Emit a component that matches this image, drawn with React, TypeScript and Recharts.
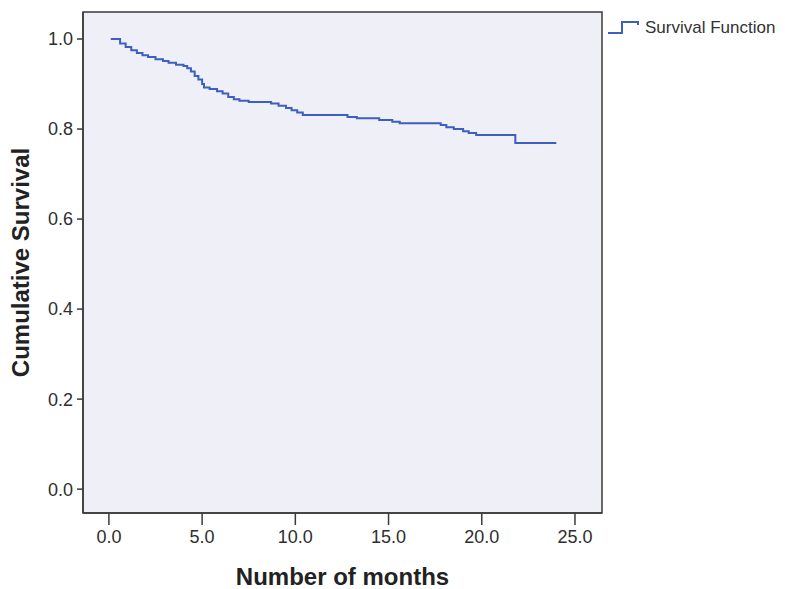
import React from "react";
import {
	LineChart,
	Line,
	XAxis,
	YAxis,
	ReferenceArea,
} from "recharts";

// Kaplan-Meier estimate: event time (months) and survival after it
const months = [
	0.1, 0.6, 0.9, 1.2, 1.5, 1.8, 2.1, 2.5, 2.9, 3.2, 3.6, 4.0, 4.2, 4.4, 4.6,
	4.8, 5.0, 5.1, 5.4, 5.8, 6.1, 6.4, 6.7, 7.0, 7.5, 8.7, 9.1, 9.5, 9.8, 10.1,
	10.4, 12.8, 13.3, 14.5, 15.2, 15.6, 17.8, 18.1, 18.5, 19.0, 19.3, 19.7, 21.8,
	24.0,
];
const survival = [
	1.0, 0.99, 0.982, 0.975, 0.969, 0.964, 0.96, 0.955, 0.951, 0.947, 0.943,
	0.94, 0.935, 0.928, 0.918, 0.91, 0.9, 0.892, 0.889, 0.884, 0.879, 0.871,
	0.866, 0.863, 0.86, 0.857, 0.852, 0.847, 0.842, 0.837, 0.831, 0.827, 0.824,
	0.82, 0.816, 0.813, 0.809, 0.804, 0.8, 0.795, 0.791, 0.787, 0.769, 0.769,
];

const xTicks = [0, 5, 10, 15, 20, 25];
const yTicks = [0, 0.2, 0.4, 0.6, 0.8, 1.0];

const seriesName = "Survival Function";
const xTitle = "Number of months";
const yTitle = "Cumulative Survival";

const LINE_COLOR = "#3d5fc0";
const AXIS_COLOR = "#3a3a3a";
const FONT = "'Liberation Sans', Arial, sans-serif";

const data = months.map((t, i) => ({ t, s: survival[i] }));

// SPSS-style legend: little step glyph + series name, outside the plot box
function LegendBox() {
	return (
		<div
			style={{
				position: "absolute",
				left: 607,
				top: 18,
				display: "flex",
				alignItems: "center",
				fontFamily: FONT,
			}}
		>
			<svg width={34} height={16} style={{ marginRight: 4 }}>
				<polyline
					points="1,13 15,13 15,2 31,2 31,5"
					fill="none"
					stroke={LINE_COLOR}
					strokeWidth={2}
				/>
			</svg>
			<span style={{ fontSize: 17, color: "#333" }}>{seriesName}</span>
		</div>
	);
}

export default function App() {
	return (
		<div style={{ position: "absolute", left: 0, top: 0, background: "#fff" }}>
			<LineChart
				width={785}
				height={589}
				data={data}
				margin={{ top: 12, right: 183, bottom: 75, left: 82 }}
			>
				<ReferenceArea
					x1={-1.39}
					x2={26.45}
					y1={-0.053}
					y2={1.06}
					fill="#eeeff7"
					fillOpacity={1}
					stroke={AXIS_COLOR}
					strokeWidth={1.5}
				/>
				<XAxis
					type="number"
					dataKey="t"
					domain={[-1.39, 26.45]}
					ticks={xTicks}
					tickFormatter={(v: number) => v.toFixed(1)}
					height={1}
					tickSize={12}
					tickMargin={5}
					axisLine={{ stroke: AXIS_COLOR, strokeWidth: 1.5 }}
					tickLine={{ stroke: AXIS_COLOR, strokeWidth: 1.5 }}
					tick={{ fill: "#2e2e2e", fontSize: 18, fontFamily: FONT }}
					allowDataOverflow
					interval={0}
					label={{
						value: xTitle,
						position: "bottom",
						offset: 54,
						fill: "#222",
						fontSize: 24,
						fontWeight: "bold",
						fontFamily: FONT,
					}}
				/>
				<YAxis
					type="number"
					domain={[-0.053, 1.06]}
					ticks={yTicks}
					tickFormatter={(v: number) => v.toFixed(1)}
					width={1}
					tickSize={6}
					tickMargin={4}
					axisLine={{ stroke: AXIS_COLOR, strokeWidth: 1.5 }}
					tickLine={{ stroke: AXIS_COLOR, strokeWidth: 1.5 }}
					tick={{ fill: "#2e2e2e", fontSize: 18, fontFamily: FONT }}
					allowDataOverflow
					interval={0}
					label={{
						value: yTitle,
						position: "left",
						angle: -90,
						offset: 62,
						fill: "#222",
						fontSize: 24,
						fontWeight: "bold",
						fontFamily: FONT,
						textAnchor: "middle",
					}}
				/>
				<Line
					type="stepAfter"
					dataKey="s"
					name={seriesName}
					stroke={LINE_COLOR}
					strokeWidth={2}
					dot={false}
					activeDot={false}
					isAnimationActive={false}
				/>
			</LineChart>
			<LegendBox />
		</div>
	);
}
